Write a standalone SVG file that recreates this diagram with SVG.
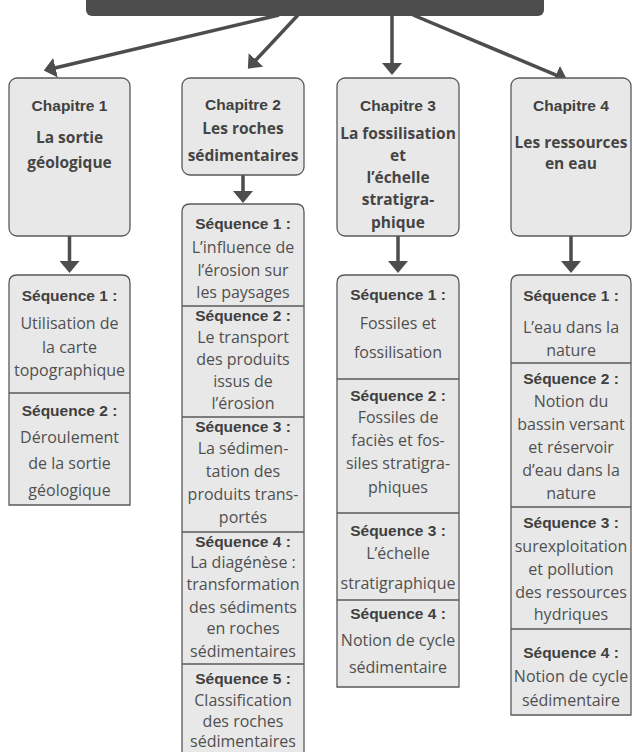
<svg xmlns="http://www.w3.org/2000/svg" width="633" height="752" viewBox="0 0 633 752">
<style>
.box{fill:#e8e8e8;stroke:#5a5a5a;stroke-width:1.3}
.div{stroke:#5a5a5a;stroke-width:1.3}
.con{stroke:#4d4d4d;stroke-width:3.5;fill:none}
.hd{font-family:"Liberation Sans",Arial,sans-serif;font-weight:700;font-size:15.5px;fill:#404040;text-anchor:middle;dominant-baseline:central}
.tt{font-family:"Open Sans","Noto Sans",sans-serif;font-weight:700;font-size:15.5px;fill:#454545;text-anchor:middle;dominant-baseline:central}
.bd{font-family:"Open Sans","Noto Sans",sans-serif;font-size:16px;fill:#505050;text-anchor:middle;dominant-baseline:central}
</style>
<defs>
<marker id="ah" viewBox="0 0 12 20" markerWidth="12" markerHeight="20" markerUnits="userSpaceOnUse" refX="4" refY="10" orient="auto">
<path d="M0,0 L12,10 L0,20 Z" fill="#4d4d4d"/>
</marker>
</defs>
<g id="top"><rect x="86" y="-12" width="458" height="28" rx="6" fill="#4d4d4d"/></g>
<g id="connectors">
<line class="con" x1="279" y1="15" x2="51.6" y2="68.7" marker-end="url(#ah)"/>
<line class="con" x1="298" y1="15" x2="253.3" y2="62.8" marker-end="url(#ah)"/>
<line class="con" x1="392" y1="15" x2="392" y2="67" marker-end="url(#ah)"/>
<line class="con" x1="413" y1="15" x2="559.7" y2="76.6" marker-end="url(#ah)"/>
<line class="con" x1="69.5" y1="236" x2="69.5" y2="265" marker-end="url(#ah)"/>
<line class="con" x1="243" y1="175" x2="243" y2="195" marker-end="url(#ah)"/>
<line class="con" x1="398" y1="236" x2="398" y2="265" marker-end="url(#ah)"/>
<line class="con" x1="571" y1="236" x2="571" y2="265" marker-end="url(#ah)"/>
</g>
<g id="ch1">
<rect class="box" x="9" y="78" width="121" height="158" rx="8"/>
<text class="hd" x="69.5" y="105">Chapitre 1</text>
<text class="tt" x="69.5" y="137">La sortie</text>
<text class="tt" x="69.5" y="162">géologique</text>
</g>
<g id="ch2">
<rect class="box" x="182" y="78" width="122" height="97" rx="8"/>
<text class="hd" x="243" y="104">Chapitre 2</text>
<text class="tt" x="243" y="128">Les roches</text>
<text class="tt" x="243" y="155">sédimentaires</text>
</g>
<g id="ch3">
<rect class="box" x="337" y="78" width="122" height="158" rx="8"/>
<text class="hd" x="398" y="105">Chapitre 3</text>
<text class="tt" x="398" y="133">La fossilisation</text>
<text class="tt" x="398" y="155">et</text>
<text class="tt" x="398" y="177">l’échelle</text>
<text class="tt" x="398" y="199">stratigra-</text>
<text class="tt" x="398" y="222">phique</text>
</g>
<g id="ch4">
<rect class="box" x="511" y="78" width="120" height="158" rx="8"/>
<text class="hd" x="571" y="105">Chapitre 4</text>
<text class="tt" x="571" y="142">Les ressources</text>
<text class="tt" x="571" y="163">en eau</text>
</g>
<g id="seq1">
<path class="box" d="M9,505 V283 Q9,275 17,275 H122 Q130,275 130,283 V505 Z"/>
<line class="div" x1="9" y1="393" x2="130" y2="393"/>
<text class="hd" x="69.5" y="295">Séquence 1 :</text>
<text class="bd" x="69.5" y="323">Utilisation de</text>
<text class="bd" x="69.5" y="347">la carte</text>
<text class="bd" x="69.5" y="370">topographique</text>
<text class="hd" x="69.5" y="410">Séquence 2 :</text>
<text class="bd" x="69.5" y="437">Déroulement</text>
<text class="bd" x="69.5" y="463">de la sortie</text>
<text class="bd" x="69.5" y="490">géologique</text>
</g>
<g id="seq2">
<path class="box" d="M182,760 V212 Q182,204 190,204 H296 Q304,204 304,212 V760 Z"/>
<line class="div" x1="182" y1="306" x2="304" y2="306"/>
<line class="div" x1="182" y1="417" x2="304" y2="417"/>
<line class="div" x1="182" y1="532" x2="304" y2="532"/>
<line class="div" x1="182" y1="664" x2="304" y2="664"/>
<text class="hd" x="243" y="223">Séquence 1 :</text>
<text class="bd" x="243" y="247">L’influence de</text>
<text class="bd" x="243" y="270">l’érosion sur</text>
<text class="bd" x="243" y="292">les paysages</text>
<text class="hd" x="243" y="315">Séquence 2 :</text>
<text class="bd" x="243" y="337">Le transport</text>
<text class="bd" x="243" y="359">des produits</text>
<text class="bd" x="243" y="381">issus de</text>
<text class="bd" x="243" y="403">l’érosion</text>
<text class="hd" x="243" y="426">Séquence 3 :</text>
<text class="bd" x="243" y="448">La sédimen-</text>
<text class="bd" x="243" y="471">tation des</text>
<text class="bd" x="243" y="494">produits trans-</text>
<text class="bd" x="243" y="517">portés</text>
<text class="hd" x="243" y="541">Séquence 4 :</text>
<text class="bd" x="243" y="562">La diagénèse :</text>
<text class="bd" x="243" y="584">transformation</text>
<text class="bd" x="243" y="607">des sédiments</text>
<text class="bd" x="243" y="628">en roches</text>
<text class="bd" x="243" y="651">sédimentaires</text>
<text class="hd" x="243" y="678">Séquence 5 :</text>
<text class="bd" x="243" y="700">Classification</text>
<text class="bd" x="243" y="721">des roches</text>
<text class="bd" x="243" y="741">sédimentaires</text>
</g>
<g id="seq3">
<path class="box" d="M337,687 V283 Q337,275 345,275 H451 Q459,275 459,283 V687 Z"/>
<line class="div" x1="337" y1="379" x2="459" y2="379"/>
<line class="div" x1="337" y1="513" x2="459" y2="513"/>
<line class="div" x1="337" y1="600" x2="459" y2="600"/>
<text class="hd" x="398" y="294">Séquence 1 :</text>
<text class="bd" x="398" y="323">Fossiles et</text>
<text class="bd" x="398" y="352">fossilisation</text>
<text class="hd" x="398" y="395">Séquence 2 :</text>
<text class="bd" x="398" y="417">Fossiles de</text>
<text class="bd" x="398" y="440">faciès et fos-</text>
<text class="bd" x="398" y="463">siles stratigra-</text>
<text class="bd" x="398" y="487">phiques</text>
<text class="hd" x="398" y="530">Séquence 3 :</text>
<text class="bd" x="398" y="553">L’échelle</text>
<text class="bd" x="398" y="583">stratigraphique</text>
<text class="hd" x="398" y="613">Séquence 4 :</text>
<text class="bd" x="398" y="640">Notion de cycle</text>
<text class="bd" x="398" y="667">sédimentaire</text>
</g>
<g id="seq4">
<path class="box" d="M511,715 V283 Q511,275 519,275 H623 Q631,275 631,283 V715 Z"/>
<line class="div" x1="511" y1="363" x2="631" y2="363"/>
<line class="div" x1="511" y1="507" x2="631" y2="507"/>
<line class="div" x1="511" y1="629" x2="631" y2="629"/>
<text class="hd" x="571" y="295">Séquence 1 :</text>
<text class="bd" x="571" y="327">L’eau dans la</text>
<text class="bd" x="571" y="350">nature</text>
<text class="hd" x="571" y="378">Séquence 2 :</text>
<text class="bd" x="571" y="401">Notion du</text>
<text class="bd" x="571" y="424">bassin versant</text>
<text class="bd" x="571" y="447">et réservoir</text>
<text class="bd" x="571" y="470">d’eau dans la</text>
<text class="bd" x="571" y="493">nature</text>
<text class="hd" x="571" y="522">Séquence 3 :</text>
<text class="bd" x="571" y="546">surexploitation</text>
<text class="bd" x="571" y="569">et pollution</text>
<text class="bd" x="571" y="592">des ressources</text>
<text class="bd" x="571" y="614">hydriques</text>
<text class="hd" x="571" y="652">Séquence 4 :</text>
<text class="bd" x="571" y="676">Notion de cycle</text>
<text class="bd" x="571" y="700">sédimentaire</text>
</g>
</svg>
